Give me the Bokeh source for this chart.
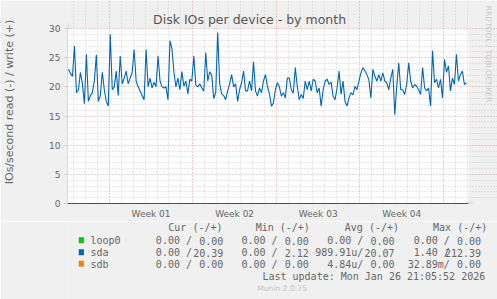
from math import pi
from bokeh.plotting import figure
from bokeh.layouts import column
from bokeh.models import (Range1d, FixedTicker, Grid, Label, BoxAnnotation,
                          ColumnDataSource)
from bokeh.core.properties import value
from bokeh.embed import file_html
from bokeh.resources import INLINE

# ---------------- data ----------------
title = "Disk IOs per device - by month"
y_label = "IOs/second read (-) / write (+)"
week_centers = [3.5, 10.5, 17.5, 24.5]          # days from start of Week 01
week_labels = ["Week 01", "Week 02", "Week 03", "Week 04"]
week_bounds = [0, 7, 14, 21, 28]
y_ticks = [0, 5, 10, 15, 20, 25, 30]
x_start, x_end = -3.5, 30.1                      # visible time span (days)
y_min, y_max = 0, 30

start_hour = -82      # first sample, hours relative to start of Week 01
step_hours = 4        # sample spacing
sda_write = [
    23.0, 22.3, 21.8, 27.0, 19.0, 19.5, 22.5, 20.5, 17.1, 25.6,
    17.5, 18.5, 19.0, 21.0, 25.5, 17.5, 18.5, 22.5, 19.5, 17.5,
    16.7, 29.0, 19.5, 20.0, 22.7, 18.5, 25.3, 20.5, 21.5, 22.7,
    20.5, 21.5, 22.5, 26.4,
    21.0, 20.0, 19.3, 18.5, 17.8, 26.4, 20.0, 21.5, 19.8, 20.8,
    20.0, 25.3, 21.0, 20.0, 19.8, 20.0, 17.8, 27.9, 26.5, 22.5,
    20.0, 21.5, 19.5, 22.6, 20.1, 21.0, 18.8, 21.3, 21.0, 25.3,
    20.3, 20.0, 20.5,
    19.8, 19.3, 25.9, 21.0, 22.6, 22.0, 18.0, 19.0, 29.3, 20.5,
    18.8, 18.5, 17.8, 19.3, 20.5, 22.1, 20.0, 20.5, 17.5, 19.5,
    20.7, 22.7, 19.3, 19.3, 21.0, 19.3, 24.3, 19.3, 18.4, 19.8,
    19.0, 21.0, 22.1,
    20.1, 18.8, 16.7, 17.2, 19.5, 20.7, 20.0, 18.4, 19.0, 18.1,
    21.5, 21.5, 19.5, 18.9, 23.3, 20.1, 17.8, 18.7, 18.0, 21.0,
    19.5, 21.0, 19.3, 21.3, 21.0, 19.0, 19.8, 16.7, 19.5, 21.0,
    21.3, 20.4, 20.8,
    18.4, 17.8, 19.8, 22.7, 18.7, 21.0, 17.5, 16.7, 18.1, 19.0,
    18.6, 20.1, 19.5, 21.0, 22.4, 23.3, 22.7, 22.1, 21.2, 18.1,
    23.0, 21.8, 21.0, 22.1, 21.0, 22.4, 21.0, 20.7, 19.5, 21.5,
    23.0, 15.2, 20.1, 24.1,
    19.5, 19.5, 18.7, 20.4, 24.1, 21.0, 19.8, 20.4, 20.1, 19.5,
    18.7, 23.3, 19.8, 19.3, 19.8, 16.7, 26.2, 20.7, 21.3, 19.8,
    21.3, 18.1, 24.7, 22.5, 23.6, 19.3, 21.5, 20.4, 25.6, 21.0,
    22.1, 22.7, 20.4, 20.7,
]

legend_names = ["loop0", "sda", "sdb"]
legend_colors = ["#00CC00", "#0066B3", "#FF8000"]
legend_headers = ["Cur (-/+)", "Min (-/+)", "Avg (-/+)", "Max (-/+)"]
# read part (with its "/" separator) and write part of every column
cur_read = ["0.00 /", "0.00 /", "0.00 /"]
cur_write = ["0.00", "20.39", "0.00"]
min_read = ["0.00 /", "0.00 /", "0.00 /"]
min_write = ["0.00", "2.12", "0.00"]
avg_read = ["0.00 /", "989.91u/", "4.84u/"]
avg_write = ["0.00", "20.07", "0.00"]
max_read = ["0.00 /", "1.40 /", "32.89m/"]
max_write = ["0.00", "212.39", "0.00"]
last_update = "Last update: Mon Jan 26 21:05:52 2026"
version = "Munin 2.0.75"
watermark = "RRDTOOL / TOBI OETIKER"

# ---------------- layout constants ----------------
W = 497
H_MAIN = 221
H_LEG = 299 - H_MAIN
FL, FB = 66, 203            # frame left / bottom in canvas px
PX_PER_DAY = 83.75 / 7
PX_PER_UNIT = 175 / 30
BG = "#F0F0F0"
FONT_COL = "#666666"
AXIS_COL = "#CFD6F8"
CHAR_W = 6.02               # advance of the 10px monospace legend font


def dx(px):
    return x_start + (px - FL) / PX_PER_DAY


def dy(py):
    return (FB - py) / PX_PER_UNIT


days = [(start_hour + i * step_hours) / 24.0 for i in range(len(sda_write))]
src = ColumnDataSource(data=dict(x=days, y=sda_write))

p = figure(width=W, height=H_MAIN, output_backend="svg", toolbar_location=None,
           x_range=Range1d(x_start, dx(W)), y_range=Range1d(y_min, dy(0)),
           min_border_left=FL, min_border_right=0, min_border_top=0,
           min_border_bottom=H_MAIN - FB,
           background_fill_color=BG, border_fill_color=BG)
p.outline_line_color = None

# white canvas of the graph
p.add_layout(BoxAnnotation(left=x_start, right=x_end, bottom=y_min, top=y_max,
                           fill_color="#FFFFFF", fill_alpha=1, line_color=None,
                           level="image"))

for g in p.xgrid + p.ygrid:
    g.grid_line_color = None

minor_days = [d for d in range(-3, 31) if d not in week_bounds]
minor_vals = [v for v in range(1, 30) if v % 5 != 0]
grid_minor = "#cfcfcf"
grid_major = "#e89a9a"
p.add_layout(Grid(dimension=0, ticker=FixedTicker(ticks=minor_days), bounds=(y_min, y_max),
                  grid_line_color=grid_minor, grid_line_dash="1 2"))
p.add_layout(Grid(dimension=1, ticker=FixedTicker(ticks=minor_vals), bounds=(x_start, x_end),
                  grid_line_color=grid_minor, grid_line_dash="1 2"))
p.add_layout(Grid(dimension=0, ticker=FixedTicker(ticks=week_bounds), bounds=(y_min, y_max),
                  grid_line_color=grid_major, grid_line_dash="1 2"))
p.add_layout(Grid(dimension=1, ticker=FixedTicker(ticks=y_ticks[1:]), bounds=(x_start, x_end),
                  grid_line_color=grid_major, grid_line_dash="1 2"))

p.line("x", "y", source=src, line_color="#0066B3", line_width=1.1)

# axes
ax = p.xaxis[0]
ax.bounds = (x_start, x_end)
ax.ticker = FixedTicker(ticks=week_centers)
ax.major_label_overrides = {c: l for c, l in zip(week_centers, week_labels)}
ax.major_tick_line_color = None
ax.minor_tick_line_color = None
ax.major_tick_out = 0
ax.major_label_standoff = 5
ax.axis_line_color = "#505050"
ax.major_label_text_font = "DejaVu Sans"
ax.major_label_text_font_size = "9px"
ax.major_label_text_color = FONT_COL

ay = p.yaxis[0]
ay.bounds = (y_min, y_max)
ay.ticker = FixedTicker(ticks=y_ticks)
ay.minor_tick_line_color = None
ay.major_tick_out = 3
ay.major_tick_in = 0
ay.major_tick_line_color = "#cccccc"
ay.major_label_standoff = 4
ay.axis_line_color = AXIS_COL
ay.major_label_text_font = "DejaVu Sans"
ay.major_label_text_font_size = "9px"
ay.major_label_text_color = FONT_COL
ay.axis_label = y_label
ay.axis_label_text_font = "DejaVu Sans"
ay.axis_label_text_font_style = "normal"
ay.axis_label_text_font_size = "11px"
ay.axis_label_text_color = FONT_COL
ay.axis_label_standoff = 30

# arrows at the axis ends
p.patch([dx(63.5), dx(68.5), dx(66)], [dy(28), dy(28), dy(21)],
        fill_color=AXIS_COL, line_color=None)
p.patch([dx(468), dx(468), dx(474)], [dy(200.5), dy(205.5), dy(203)],
        fill_color=AXIS_COL, line_color=None)

# title and watermark (inside the extended frame)
p.add_layout(Label(x=dx(248.5), y=dy(19), text=title, text_font="DejaVu Sans",
                   text_font_size="12.5px", text_color="#555555",
                   text_align="center", text_baseline="middle"))
p.add_layout(Label(x=dx(487.5), y=dy(53.5), text=watermark, text_font="DejaVu Sans",
                   text_font_size="7.5px", text_color="#c8c8c8",
                   text_align="center", text_baseline="middle", angle=-pi / 2))

# ---------------- legend panel ----------------
q = figure(width=W, height=H_LEG, output_backend="svg", toolbar_location=None,
           x_range=Range1d(0, W), y_range=Range1d(299, H_MAIN),
           min_border=0, background_fill_color=BG, border_fill_color=BG)
q.outline_line_color = None
q.axis.visible = False
q.grid.visible = False

row_y = [240, 252, 263.5]
q.quad(left=[13] * 3, right=[19] * 3,
       top=[y - 3.3 for y in row_y], bottom=[y + 2.7 for y in row_y],
       fill_color=legend_colors, line_color=None)

left_x, left_y, left_t = [], [], []
for hx, htxt in zip([116.5, 217.5, 320.5, 422.5], legend_headers):
    left_x.append(hx); left_y.append(227); left_t.append(htxt)
for i, name in enumerate(legend_names):
    left_x.append(26.5); left_y.append(row_y[i]); left_t.append(name)
q.text(x=left_x, y=left_y, text=left_t, text_font=value("DejaVu Sans Mono"),
       text_font_size="10px", text_color=FONT_COL, text_align="left",
       text_baseline="middle")

right_x, right_y, right_t = [], [], []
columns = [(180, cur_read, cur_write), (279, min_read, min_write),
           (378, avg_read, avg_write), (478, max_read, max_write)]
for cx, rd, wr in columns:
    for i in range(3):
        right_x.append(cx - 6 * CHAR_W); right_y.append(row_y[i]); right_t.append(rd[i])
        right_x.append(cx); right_y.append(row_y[i]); right_t.append(wr[i])
right_x.append(482.8); right_y.append(276); right_t.append(last_update)
q.text(x=right_x, y=right_y, text=right_t, text_font=value("DejaVu Sans Mono"),
       text_font_size="10px", text_color=FONT_COL, text_align="right",
       text_baseline="middle")

q.text(x=[248], y=[288], text=[version], text_font=value("DejaVu Sans"),
       text_font_size="7.6px", text_color="#c4c4c4", text_align="center",
       text_baseline="middle")

layout = column(p, q, spacing=0)
open("out.html", "w").write(file_html(layout, INLINE))
